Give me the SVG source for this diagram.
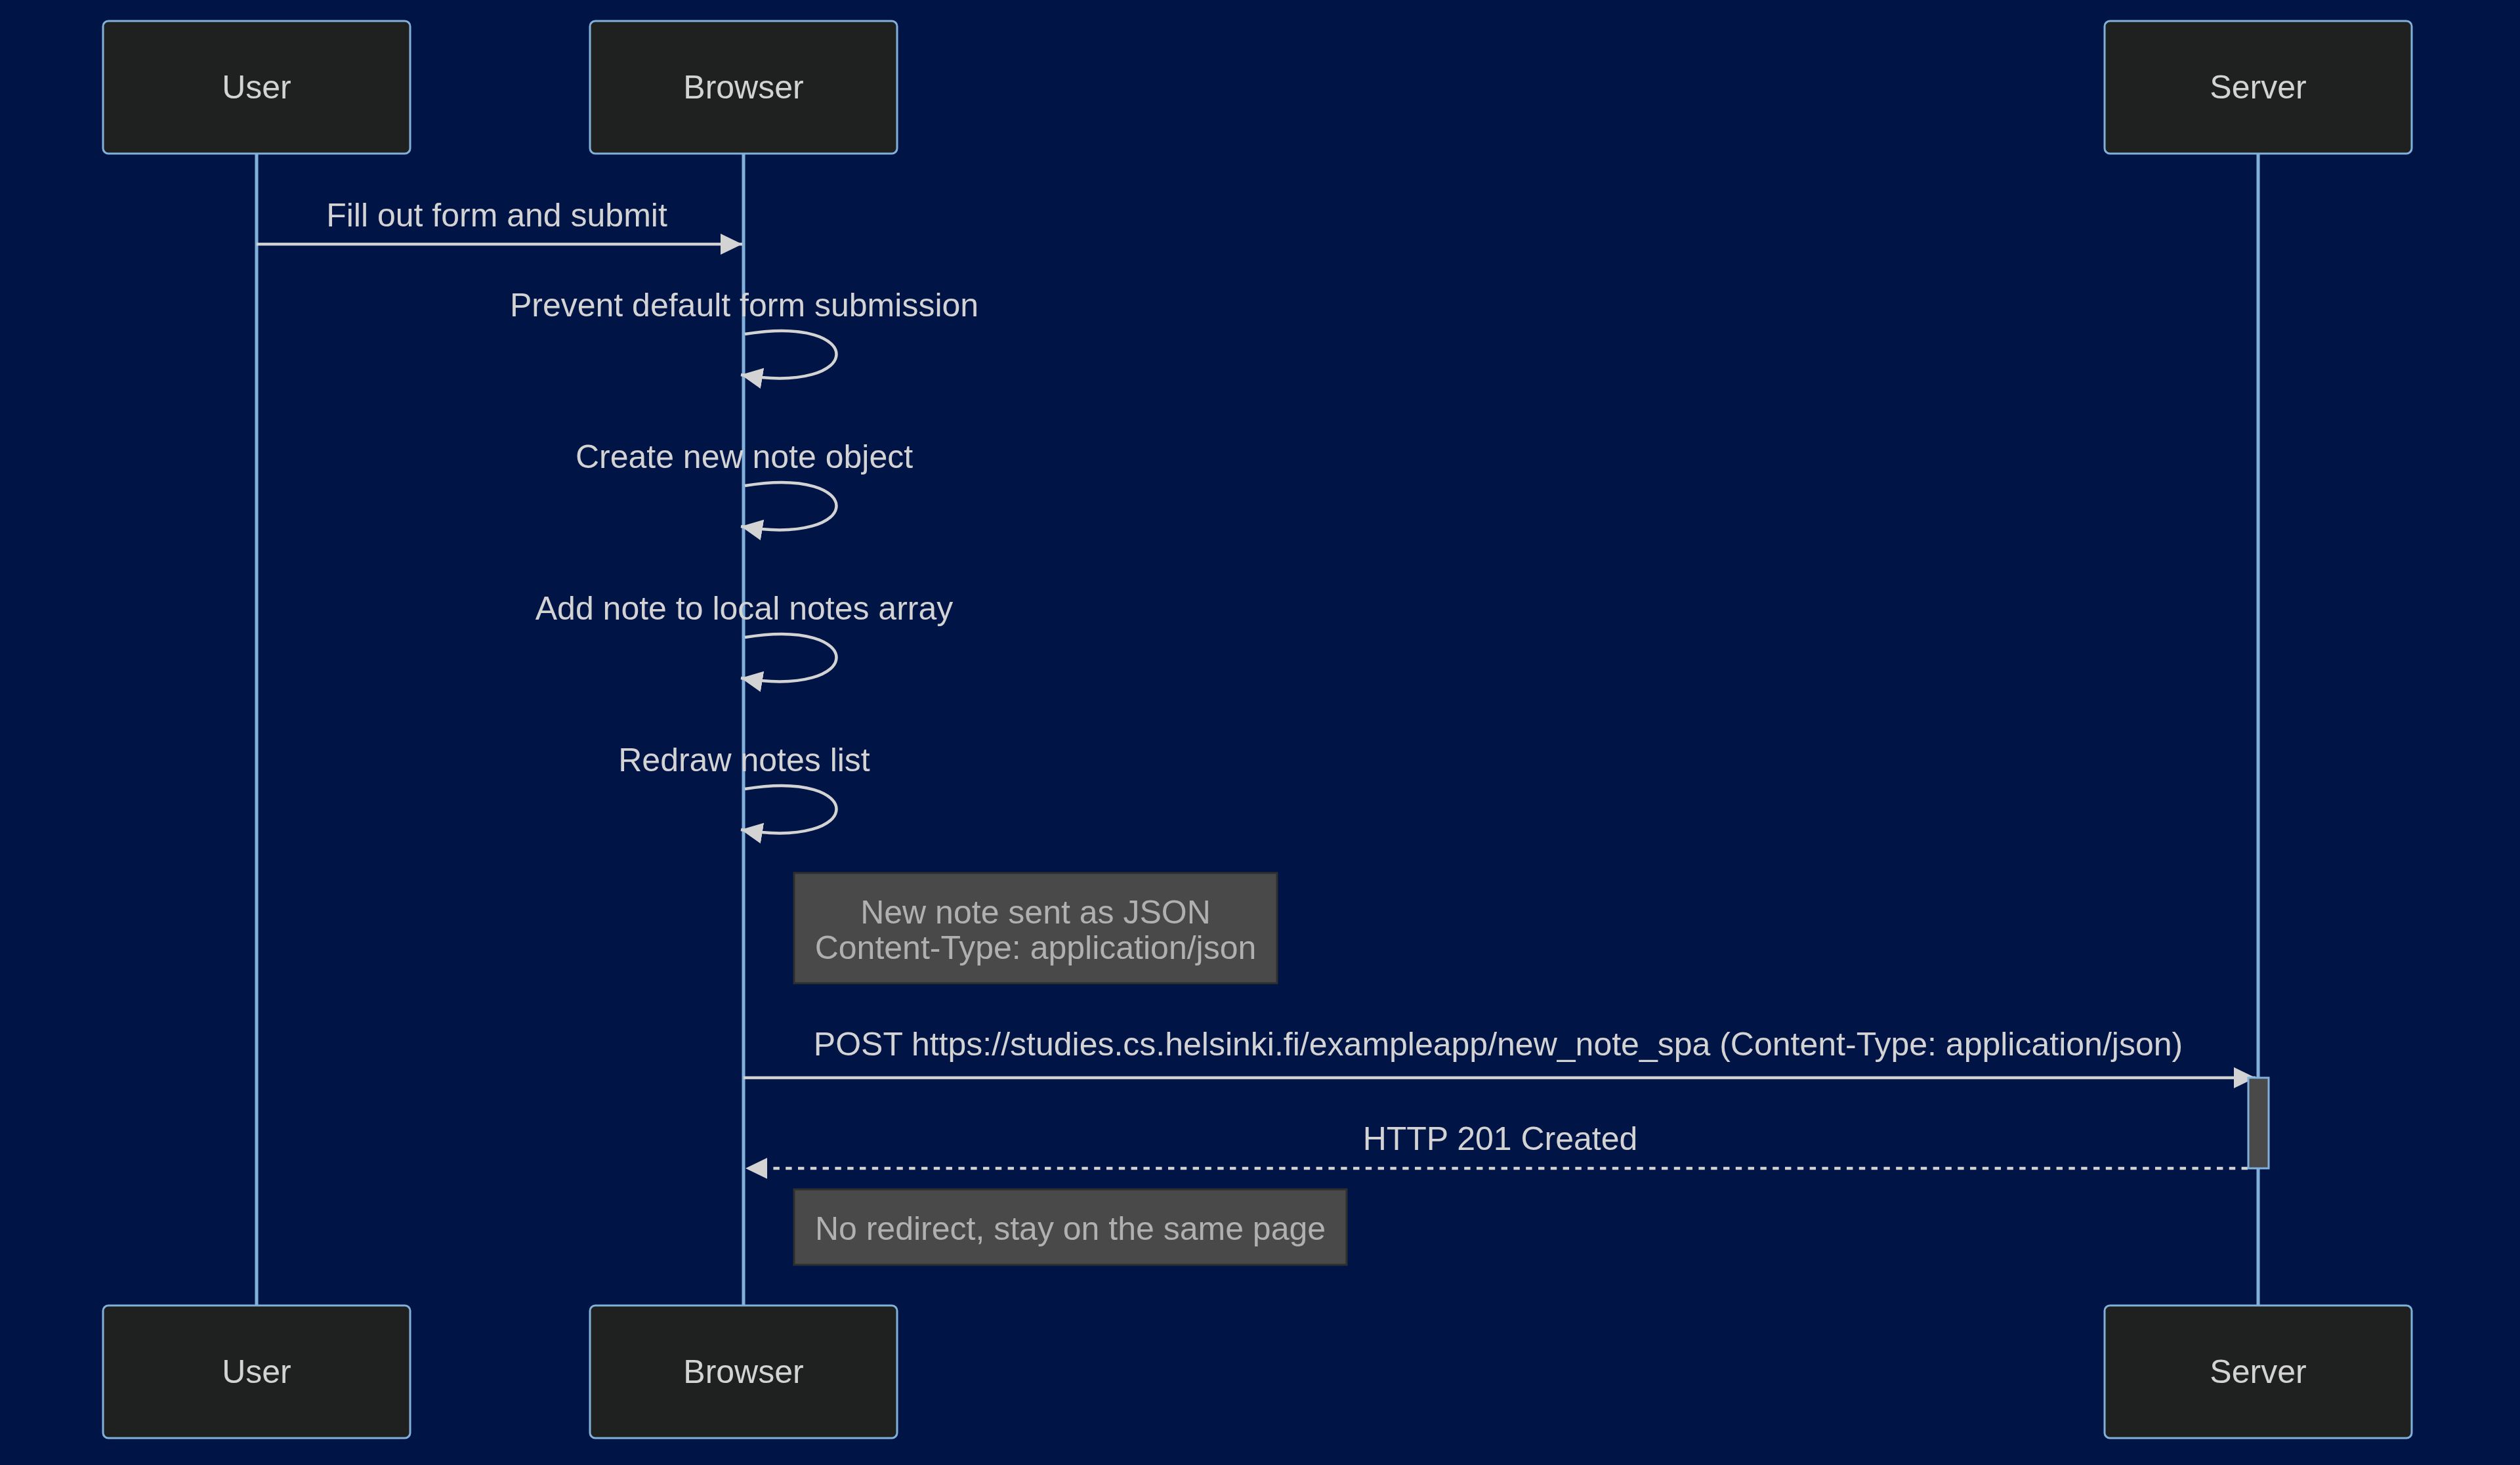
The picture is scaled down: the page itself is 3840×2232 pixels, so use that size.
<svg xmlns="http://www.w3.org/2000/svg" width="3840" height="2232" viewBox="0 0 3840 2232">
<style>
  text { font-family: "Liberation Sans", Arial, sans-serif; }
  .actor { fill: #1f2020; stroke: #81b1db; stroke-width: 3; }
  .actorText { fill: #d3d3d3; font-size: 50px; text-anchor: middle; dominant-baseline: central; }
  .lifeline { stroke: #81b1db; stroke-width: 5; fill: none; }
  .msg { stroke: #d3d3d3; stroke-width: 4.5; fill: none; }
  .dashed { stroke-dasharray: 9.4 9.4; }
  .msgText { fill: #d3d3d3; font-size: 50px; text-anchor: middle; }
  .note { fill: #494949; stroke: #2f2f2f; stroke-width: 3; }
  .noteText { fill: #b0b0b0; font-size: 50px; text-anchor: middle; }
  .activation { fill: #494949; stroke: #81b1db; stroke-width: 3; }
</style>
<defs>
  <marker id="arrow" markerUnits="userSpaceOnUse" markerWidth="34" markerHeight="34" viewBox="0 0 34 34" refX="33" refY="16" orient="auto">
    <path d="M0,0 L33,16 L0,32 Z" fill="#d3d3d3"/>
  </marker>
</defs>
<rect width="3840" height="2232" fill="#011446"/>

<g id="lifelines">
  <line class="lifeline" x1="391" y1="234" x2="391" y2="1990"/>
  <line class="lifeline" x1="1133" y1="234" x2="1133" y2="1990"/>
  <line class="lifeline" x1="3441" y1="234" x2="3441" y2="1990"/>
</g>

<g id="actor-user-top"><rect class="actor" x="157" y="32" width="468" height="202" rx="8"/><text class="actorText" x="391" y="133">User</text></g>
<g id="actor-browser-top"><rect class="actor" x="899" y="32" width="468" height="202" rx="8"/><text class="actorText" x="1133" y="133">Browser</text></g>
<g id="actor-server-top"><rect class="actor" x="3207" y="32" width="468" height="202" rx="8"/><text class="actorText" x="3441" y="133">Server</text></g>

<g id="actor-user-bottom"><rect class="actor" x="157" y="1989" width="468" height="202" rx="8"/><text class="actorText" x="391" y="2090">User</text></g>
<g id="actor-browser-bottom"><rect class="actor" x="899" y="1989" width="468" height="202" rx="8"/><text class="actorText" x="1133" y="2090">Browser</text></g>
<g id="actor-server-bottom"><rect class="actor" x="3207" y="1989" width="468" height="202" rx="8"/><text class="actorText" x="3441" y="2090">Server</text></g>

<g id="note-json">
  <rect class="note" x="1210" y="1330" width="736" height="168"/>
  <text class="noteText" x="1578" y="1407">New note sent as JSON</text>
  <text class="noteText" x="1578" y="1461">Content-Type: application/json</text>
</g>
<g id="note-redirect">
  <rect class="note" x="1210" y="1812" width="842" height="115"/>
  <text class="noteText" x="1631" y="1889">No redirect, stay on the same page</text>
</g>

<g id="connectors">
  <line class="msg" x1="391" y1="372" x2="1131" y2="372" marker-end="url(#arrow)"/>
  <text class="msgText" x="757" y="345">Fill out form and submit</text>

  <path class="msg" d="M1135,509 C1322,478 1322,603 1129,571" marker-end="url(#arrow)"/>
  <text class="msgText" x="1134" y="482">Prevent default form submission</text>

  <path class="msg" d="M1135,740 C1322,709 1322,834 1129,802" marker-end="url(#arrow)"/>
  <text class="msgText" x="1134" y="713">Create new note object</text>

  <path class="msg" d="M1135,971 C1322,940 1322,1065 1129,1033" marker-end="url(#arrow)"/>
  <text class="msgText" x="1134" y="944">Add note to local notes array</text>

  <path class="msg" d="M1135,1202 C1322,1171 1322,1296 1129,1264" marker-end="url(#arrow)"/>
  <text class="msgText" x="1134" y="1175">Redraw notes list</text>

  <line class="msg" x1="1133" y1="1642" x2="3437" y2="1642" marker-end="url(#arrow)"/>
  <text class="msgText" x="2283" y="1608">POST https://studies.cs.helsinki.fi/exampleapp/new_note_spa (Content-Type: application/json)</text>

  <line class="msg dashed" x1="3425" y1="1780" x2="1136" y2="1780" marker-end="url(#arrow)"/>
  <text class="msgText" x="2286" y="1752">HTTP 201 Created</text>
</g>

<g id="activation-server">
  <rect class="activation" x="3426" y="1642" width="31" height="138"/>
</g>
</svg>
